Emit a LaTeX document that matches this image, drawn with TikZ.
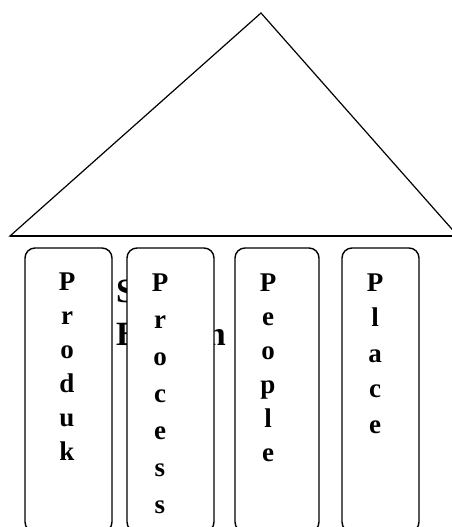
\documentclass[tikz,border=0pt]{standalone}
\usepackage{fontspec}
\setmainfont{Liberation Serif}
\usepackage{tikz}
\usetikzlibrary{positioning}

\begin{document}
\begin{tikzpicture}[
	x=1pt, y=-1pt,
	atap/.style={draw=black, line width=1.2pt, line join=miter},
	tiang/.style={draw=black, fill=white, line width=1.4pt, rounded corners=10pt},
	huruf/.style={font=\fontsize{27}{#1}\selectfont\bfseries, align=center, inner sep=0pt, anchor=base},
	judul/.style={font=\fontsize{34}{43}\selectfont\bfseries, align=left, inner sep=0pt, anchor=base west},
]
\useasboundingbox (0,0) rectangle (451,527);
% Atap
\draw[atap] (10,236) coordinate (kiri) -- (261,13) coordinate (puncak) -- (458,236) coordinate (kanan) -- cycle;
\draw[line width=1.6pt] (kiri) -- (kanan);
% Teks judul (tertutup tiang)
\node[judul] (judul) at (116,345) {Sistem\\Bauran};
% Tiang
\draw[tiang] (25,248) rectangle (112,532);
\draw[tiang] (127,248) rectangle (214,532);
\draw[tiang] (235,248) rectangle (319,532);
\draw[tiang] (342,248) rectangle (419,532);
% Huruf (posisi = baris terakhir)
\node[huruf=34] (produk) at (67,460) {P\\r\\o\\d\\u\\k};
\node[huruf=37] (process) at (160,513) {P\\r\\o\\c\\e\\s\\s};
\node[huruf=34] (people) at (268,461) {P\\e\\o\\p\\l\\e};
\node[huruf=35.5] (place) at (375,433) {P\\l\\a\\c\\e};
\end{tikzpicture}
\end{document}
